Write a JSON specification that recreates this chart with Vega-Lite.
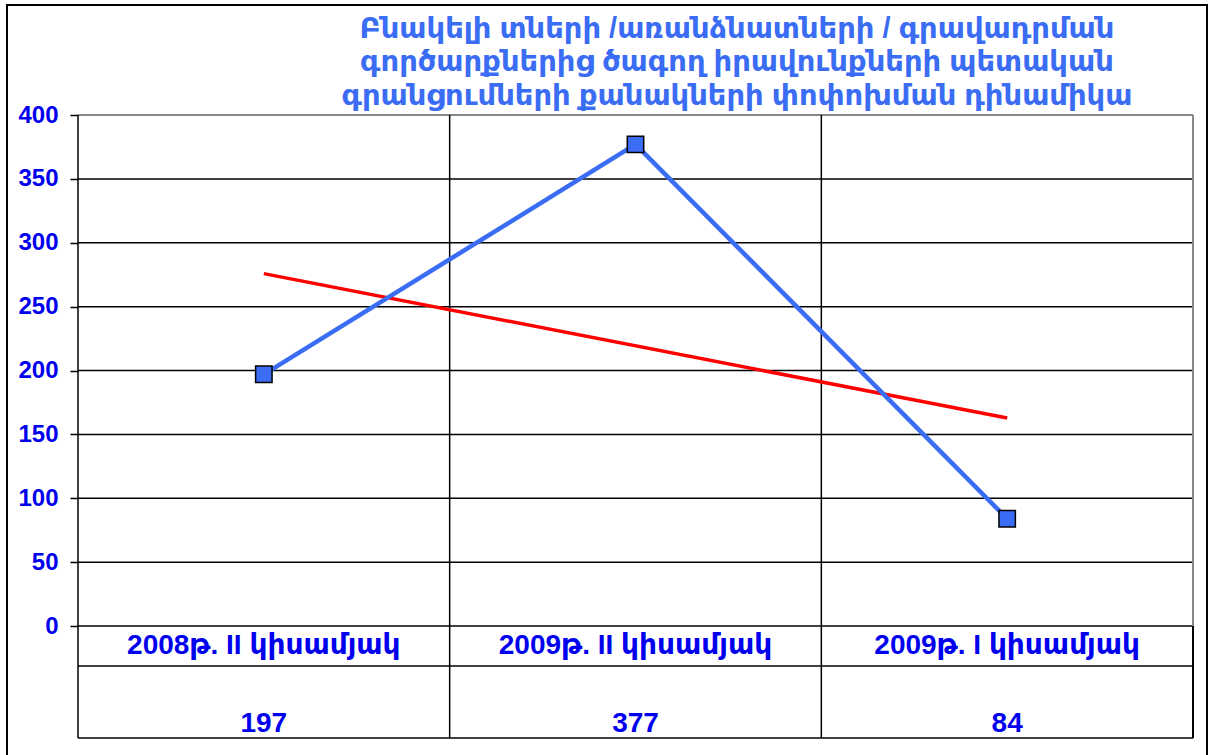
{
  "$schema": "https://vega.github.io/schema/vega-lite/v6.json",
  "autosize": "none",
  "width": 1200,
  "height": 752,
  "padding": {"left": 7, "top": 5, "right": 2, "bottom": 0},
  "background": "white",
  "config": {"view": {"stroke": "black", "strokeWidth": 2}},
  "datasets": {
    "main": [
      {"idx": 1, "cat": "2008թ. II կիսամյակ", "value": 197},
      {"idx": 2, "cat": "2009թ. II կիսամյակ", "value": 377},
      {"idx": 3, "cat": "2009թ. I կիսամյակ", "value": 84}
    ],
    "hgrid": [{"v": 0}, {"v": 50}, {"v": 100}, {"v": 150}, {"v": 200}, {"v": 250}, {"v": 300}, {"v": 350}, {"v": -31.3}, {"v": -87.7}],
    "top": [{"v": 400}],
    "vgrid": [{"b": 0.5}, {"b": 1.5}, {"b": 2.5}],
    "right": [{"b": 3.5}],
    "title": [{"t": "Բնակելի տների /առանձնատների / գրավադրման"}]
  },
  "data": {"name": "main"},
  "layer": [
    {
      "data": {"name": "hgrid"},
      "mark": {"type": "rule", "color": "black", "strokeWidth": 1.5},
      "encoding": {
        "y": {"field": "v", "type": "quantitative", "scale": {"domain": [-102.54, 486.11], "nice": false, "zero": false},
          "axis": {"orient": "left", "offset": -71, "values": [0, 50, 100, 150, 200, 250, 300, 350, 400], "domain": false, "grid": false,
            "tickSize": 8, "tickColor": "black", "tickWidth": 1.5, "labelPadding": 12,
            "labelFont": "Liberation Sans", "labelFontSize": 24, "labelFontWeight": "bold", "labelColor": "#0000EE", "title": null}},
        "x": {"datum": 0.5, "type": "quantitative", "scale": {"domain": [0.30897, 3.53767], "nice": false, "zero": false}, "axis": null},
        "x2": {"datum": 3.5}
      }
    },
    {
      "data": {"name": "top"},
      "mark": {"type": "rule", "color": "#888888", "strokeWidth": 2},
      "encoding": {"y": {"field": "v", "type": "quantitative"}, "x": {"datum": 0.5, "type": "quantitative"}, "x2": {"datum": 3.5}}
    },
    {
      "data": {"name": "vgrid"},
      "mark": {"type": "rule", "color": "black", "strokeWidth": 1.5},
      "encoding": {"x": {"field": "b", "type": "quantitative"}, "y": {"datum": -87.7, "type": "quantitative"}, "y2": {"datum": 400}}
    },
    {
      "data": {"name": "right"},
      "mark": {"type": "rule", "color": "#888888", "strokeWidth": 2},
      "encoding": {"x": {"field": "b", "type": "quantitative"}, "y": {"datum": 0, "type": "quantitative"}, "y2": {"datum": 400}}
    },
    {
      "data": {"name": "right"},
      "mark": {"type": "rule", "color": "black", "strokeWidth": 2},
      "encoding": {"x": {"field": "b", "type": "quantitative"}, "y": {"datum": -87.7, "type": "quantitative"}, "y2": {"datum": 0}}
    },
    {
      "transform": [{"regression": "value", "on": "idx"}],
      "mark": {"type": "line", "color": "#FF0000", "strokeWidth": 3.5},
      "encoding": {"x": {"field": "idx", "type": "quantitative"}, "y": {"field": "value", "type": "quantitative"}}
    },
    {
      "mark": {"type": "line", "color": "#3A6CF4", "strokeWidth": 4.5},
      "encoding": {"x": {"field": "idx", "type": "quantitative"}, "y": {"field": "value", "type": "quantitative"}}
    },
    {
      "mark": {"type": "point", "shape": "square", "filled": true, "fill": "#3A6CF4", "stroke": "black", "strokeWidth": 1.5, "size": 270, "opacity": 1},
      "encoding": {"x": {"field": "idx", "type": "quantitative"}, "y": {"field": "value", "type": "quantitative"}}
    },
    {
      "mark": {"type": "text", "font": "Liberation Sans, DejaVu Sans", "fontSize": 28, "fontWeight": "bold", "color": "#0000EE", "baseline": "middle"},
      "encoding": {"text": {"field": "cat"}, "x": {"field": "idx", "type": "quantitative"}, "y": {"datum": -15.7, "type": "quantitative"}}
    },
    {
      "mark": {"type": "text", "font": "Liberation Sans, DejaVu Sans", "fontSize": 28, "fontWeight": "bold", "color": "#0000EE", "baseline": "middle"},
      "encoding": {"text": {"field": "value"}, "x": {"field": "idx", "type": "quantitative"}, "y": {"datum": -76.7, "type": "quantitative"}}
    },
    {
      "data": {"name": "title"},
      "mark": {"type": "text", "font": "Liberation Sans, DejaVu Sans", "fontSize": 29, "fontWeight": "bold", "color": "#3A6CF4", "baseline": "alphabetic", "align": "center", "lineHeight": 33.5},
      "encoding": {
        "text": {"value": ["Բնակելի տների /առանձնատների / գրավադրման", "գործարքներից ծագող իրավունքների պետական", "գրանցումների քանակների փոփոխման դինամիկա"]},
        "x": {"datum": 2.273, "type": "quantitative"}, "y": {"datum": 460.3, "type": "quantitative"}
      }
    }
  ]
}
